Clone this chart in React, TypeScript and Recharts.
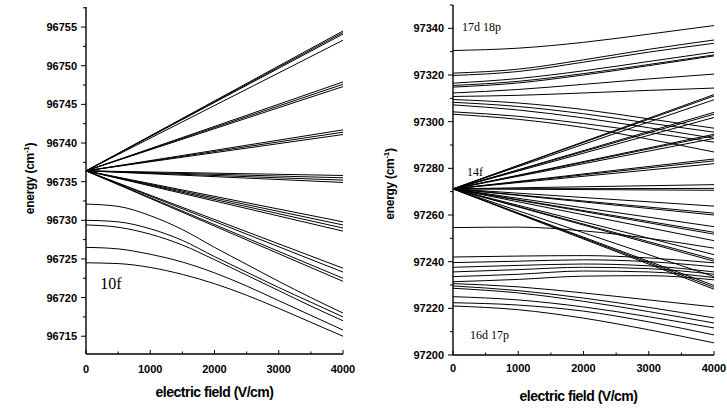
import { LineChart, Line, XAxis, YAxis, ReferenceDot } from "recharts"

// field grid (V/cm) for the curved levels
const fieldFine = [0, 500, 1000, 1500, 2000, 2500, 3000, 3500, 4000]
const fieldCoarse = [0, 1000, 2000, 3000, 4000]
const fieldTicks = [0, 500, 1000, 1500, 2000, 2500, 3000, 3500, 4000]

// 10f manifold: all hydrogenic levels start at the zero-field 10f energy
const tenFOrigin = 96736.4
const tenFFanEnds = [
  96754.5, 96754.3, 96754.1, 96753.3,
  96747.9, 96747.6, 96747.3,
  96741.7, 96741.4, 96741.1,
  96735.8, 96735.5, 96735.2, 96734.9,
  96729.8, 96729.4, 96729.0, 96728.6,
  96723.8, 96723.3, 96722.5, 96722.1,
]
// low-l levels below 10f, sampled on fieldFine
const tenFCurves = [
  [96732.1, 96731.8, 96730.6, 96728.8, 96726.5, 96724.3, 96722.1, 96720.0, 96718.0],
  [96730.0, 96729.8, 96728.9, 96727.4, 96725.3, 96723.3, 96721.3, 96719.4, 96717.5],
  [96729.4, 96729.1, 96728.2, 96726.8, 96724.9, 96722.9, 96720.9, 96718.9, 96717.0],
  [96726.5, 96726.3, 96725.6, 96724.6, 96723.2, 96721.5, 96719.6, 96717.7, 96715.8],
  [96724.5, 96724.4, 96723.9, 96723.0, 96721.8, 96720.3, 96718.6, 96716.8, 96715.0],
]
const leftEnergyTicks = [
  96715, 96717.5, 96720, 96722.5, 96725, 96727.5, 96730, 96732.5, 96735,
  96737.5, 96740, 96742.5, 96745, 96747.5, 96750, 96752.5, 96755, 96757.5,
]

// 14f manifold
const fourteenFOrigin = 97271.2
const fourteenFFanEnds = [
  97311.6, 97311.0, 97309.4, 97304.0, 97303.2, 97301.8,
  97294.6, 97294.0, 97292.8, 97284.0, 97283.2, 97282.0,
  97273.0, 97271.4, 97270.6,
  97263.8, 97260.8, 97260.0, 97255.0, 97252.6, 97251.8,
  97249.0, 97243.0, 97241.0, 97240.2, 97233.6, 97229.8, 97229.0, 97228.2,
]
// 17d / 18p levels, sampled on fieldCoarse
const upperLevels = [
  [97330.5, 97331.5, 97334.0, 97337.5, 97341.2],
  [97320.8, 97322.5, 97326.5, 97331.0, 97335.0],
  [97319.8, 97321.5, 97325.5, 97329.8, 97333.6],
  [97316.5, 97318.5, 97321.8, 97325.8, 97329.8],
  [97315.5, 97317.3, 97320.6, 97324.5, 97328.6],
  [97314.8, 97316.6, 97320.0, 97324.0, 97328.2],
  [97312.3, 97313.8, 97316.0, 97318.3, 97320.4],
  [97310.8, 97311.3, 97312.3, 97313.4, 97314.4],
  [97309.5, 97308.0, 97305.2, 97301.2, 97297.2],
  [97308.3, 97306.5, 97303.4, 97299.4, 97295.5],
  [97307.2, 97305.0, 97301.6, 97297.4, 97292.9],
  [97304.2, 97302.3, 97299.2, 97295.4, 97291.2],
  [97303.2, 97301.0, 97297.5, 97292.5, 97287.0],
]
// 16d / 17p levels, sampled on fieldCoarse
const lowerLevels = [
  [97254.6, 97254.8, 97253.2, 97250.0, 97245.8],
  [97242.0, 97242.4, 97242.6, 97241.6, 97239.5],
  [97239.6, 97240.2, 97240.8, 97240.0, 97237.8],
  [97237.6, 97238.4, 97239.0, 97238.2, 97235.6],
  [97235.6, 97236.6, 97237.6, 97237.0, 97234.6],
  [97233.6, 97234.6, 97236.0, 97235.6, 97233.2],
  [97231.4, 97232.4, 97233.8, 97234.0, 97232.2],
  [97230.6, 97229.2, 97226.6, 97223.6, 97220.6],
  [97229.6, 97227.6, 97224.4, 97220.4, 97215.9],
  [97228.6, 97226.6, 97223.0, 97218.6, 97213.7],
  [97225.0, 97223.6, 97220.6, 97216.4, 97211.6],
  [97222.4, 97221.4, 97218.8, 97214.2, 97208.6],
  [97221.0, 97219.4, 97215.8, 97210.8, 97205.2],
]
const rightEnergyTicks = [
  97200, 97210, 97220, 97230, 97240, 97250, 97260, 97270,
  97280, 97290, 97300, 97310, 97320, 97330, 97340, 97350,
]

const toSeries = (xs: number[], ys: number[]) => xs.map((x, i) => ({ x, y: ys[i] }))
const fanSeries = (origin: number, end: number) => [
  { x: 0, y: origin },
  { x: 4000, y: end },
]

const tickFont = {
  fontFamily: "'Liberation Sans', Arial, sans-serif",
  fontWeight: 700,
  fontSize: 11,
  fill: "#000",
}
const labelFont = {
  fontFamily: "'Liberation Sans', Arial, sans-serif",
  fontWeight: 700,
  fill: "#000",
}
const noteFont = {
  fontFamily: "'Liberation Serif', 'Times New Roman', serif",
  fill: "#000",
}

function makeXTick(labelDy: number) {
  return function XTick(props: any) {
    const { x, y, payload } = props
    const major = payload.value % 1000 === 0
    return (
      <g>
        <line x1={x} x2={x} y1={y} y2={y - (major ? 4 : 2.5)} stroke="#000" strokeWidth={1} />
        {major && (
          <text x={x} y={y + labelDy} textAnchor="middle" {...tickFont}>
            {payload.value}
          </text>
        )}
      </g>
    )
  }
}

function makeYTick(majorStep: number) {
  return function YTick(props: any) {
    const { x, y, payload } = props
    const v = payload.value
    const major = Math.abs(v / majorStep - Math.round(v / majorStep)) < 1e-6
    return (
      <g>
        <line x1={x} x2={x - (major ? 5 : 3)} y1={y} y2={y} stroke="#000" strokeWidth={1} />
        {major && (
          <text x={x - 9} y={y} dy={4} textAnchor="end" {...tickFont}>
            {v}
          </text>
        )}
      </g>
    )
  }
}

function xLabel(dx: number, dy: number) {
  return (props: any) => {
    const vb = props.viewBox
    return (
      <text
        x={vb.x + vb.width / 2 + dx}
        y={vb.y + dy}
        textAnchor="middle"
        fontSize={14}
        letterSpacing={-0.5}
        {...labelFont}
      >
        electric field (V/cm)
      </text>
    )
  }
}

function yLabel(cx: number, dy: number) {
  return (props: any) => {
    const vb = props.viewBox
    const cy = vb.y + vb.height / 2 + dy
    return (
      <text
        x={cx}
        y={cy}
        transform={`rotate(-90 ${cx} ${cy})`}
        textAnchor="middle"
        fontSize={12}
        letterSpacing={-0.3}
        {...labelFont}
      >
        energy (cm
        <tspan dy={-5} fontSize={8}>-1</tspan>
        <tspan dy={5}>)</tspan>
      </text>
    )
  }
}

const note = (text: string, size: number) => (p: any) => (
  <text x={p.cx} y={p.cy} fontSize={size} {...noteFont}>
    {text}
  </text>
)

const lineProps = {
  dataKey: "y",
  stroke: "#000",
  strokeWidth: 1,
  dot: false,
  activeDot: false,
  isAnimationActive: false,
} as const

export default function App() {
  return (
    <div style={{ position: "relative", width: 727, height: 408, background: "#fff", overflow: "hidden" }}>
      <style>{"body{margin:0}"}</style>

      <div style={{ position: "absolute", left: 0, top: 0 }}>
        <LineChart width={360} height={408} margin={{ top: 7, right: 17, bottom: 24, left: 0 }}>
          <XAxis
            dataKey="x"
            type="number"
            domain={[0, 4000]}
            ticks={fieldTicks}
            interval={0}
            tickSize={0}
            tickMargin={0}
            height={30}
            tick={makeXTick(19)}
            axisLine={{ stroke: "#000", strokeWidth: 1.4 }}
            allowDataOverflow
            label={xLabel(0, 43)}
          />
          <YAxis
            type="number"
            domain={[96712.7, 96757.6]}
            ticks={leftEnergyTicks}
            interval={0}
            tickSize={0}
            tickMargin={0}
            width={86}
            tick={makeYTick(5)}
            axisLine={{ stroke: "#000", strokeWidth: 1.4 }}
            allowDataOverflow
            label={yLabel(34, -2)}
          />
          {tenFFanEnds.map((end, i) => (
            <Line key={`fan10-${i}`} data={fanSeries(tenFOrigin, end)} type="linear" {...lineProps} />
          ))}
          {tenFCurves.map((ys, i) => (
            <Line key={`c10-${i}`} data={toSeries(fieldFine, ys)} type="monotone" {...lineProps} />
          ))}
          <ReferenceDot x={220} y={96721.1} r={0} shape={note("10f", 16)} />
        </LineChart>
      </div>

      <div style={{ position: "absolute", left: 365, top: 0 }}>
        <LineChart width={362} height={408} margin={{ top: 5, right: 13, bottom: 23, left: 0 }}>
          <XAxis
            dataKey="x"
            type="number"
            domain={[0, 4000]}
            ticks={fieldTicks}
            interval={0}
            tickSize={0}
            tickMargin={0}
            height={30}
            tick={makeXTick(17)}
            axisLine={{ stroke: "#000", strokeWidth: 1.4 }}
            allowDataOverflow
            label={xLabel(-5, 46)}
          />
          <YAxis
            type="number"
            domain={[97200, 97350]}
            ticks={rightEnergyTicks}
            interval={0}
            tickSize={0}
            tickMargin={0}
            width={88}
            tick={makeYTick(20)}
            axisLine={{ stroke: "#000", strokeWidth: 1.4 }}
            allowDataOverflow
            label={yLabel(29, 4)}
          />
          {upperLevels.map((ys, i) => (
            <Line key={`up-${i}`} data={toSeries(fieldCoarse, ys)} type="monotone" {...lineProps} />
          ))}
          {lowerLevels.map((ys, i) => (
            <Line key={`low-${i}`} data={toSeries(fieldCoarse, ys)} type="monotone" {...lineProps} />
          ))}
          {fourteenFFanEnds.map((end, i) => (
            <Line key={`fan14-${i}`} data={fanSeries(fourteenFOrigin, end)} type="linear" {...lineProps} />
          ))}
          <ReferenceDot x={138} y={97338.7} r={0} shape={note("17d 18p", 12)} />
          <ReferenceDot x={215} y={97276.6} r={0} shape={note("14f", 12)} />
          <ReferenceDot x={260} y={97206.9} r={0} shape={note("16d 17p", 12)} />
        </LineChart>
      </div>
    </div>
  )
}
